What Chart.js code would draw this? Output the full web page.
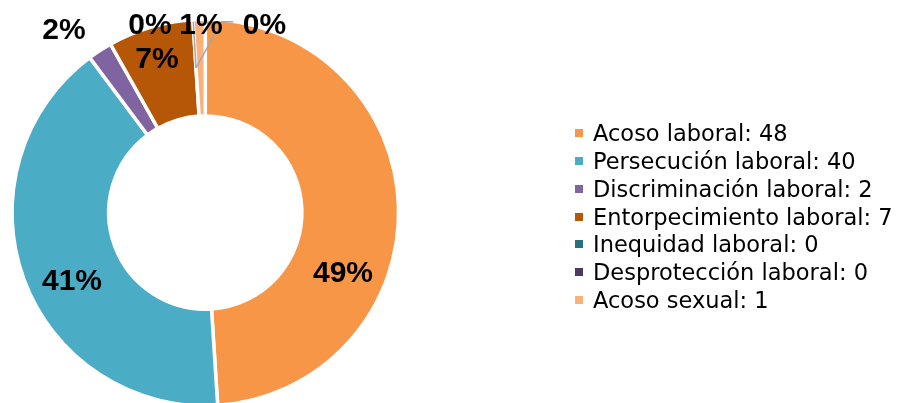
<!DOCTYPE html>
<html>
<head>
<meta charset="utf-8">
<script src="https://cdn.jsdelivr.net/npm/chart.js@4/dist/chart.umd.min.js"></script>
<style>
  html, body { margin: 0; padding: 0; background: #fff; overflow: hidden; width: 901px; height: 403px; }
  #wrap { position: absolute; left: 0; top: 0; width: 901px; height: 430px; }
  #legend { position: absolute; left: 575px; top: 119.4px; font-family: "DejaVu Sans", sans-serif; font-size: 22.5px; color: #000; }
  .row { height: 27.8px; display: flex; align-items: center; white-space: nowrap; }
  .sq { width: 8px; height: 8px; margin-right: 10px; flex: none; }
</style>
</head>
<body>
<div id="wrap"><canvas id="c" width="901" height="430"></canvas></div>
<div id="legend"></div>
<script>
const categories = ["Acoso laboral", "Persecución laboral", "Discriminación laboral", "Entorpecimiento laboral", "Inequidad laboral", "Desprotección laboral", "Acoso sexual"];
const values = [48, 40, 2, 7, 0, 0, 1];
const colors = ["#F79646", "#4BACC6", "#8064A2", "#B65708", "#2B6E7F", "#4B3B62", "#FAB27A"];

// label placement (fraction of outer radius, relative to centre)
const labelPlacement = [
  [0.7126, 0.3027],
  [-0.6898, 0.3467],
  [-0.7312, -0.9547],
  [-0.2499, -0.8021],
  [-0.2862, -0.9780],
  [0.3063, -0.9780],
  [-0.0223, -0.9780]
];
// leader lines for zero slices: index -> list of points (fraction of outer radius)
const leaderLines = {
  4: [[-0.0621, -0.9873]],
  5: [[0.0849, -0.9873], [0.1449, -0.9873]]
};

const total = values.reduce((a, b) => a + b, 0);

const labelPlugin = {
  id: 'pctLabels',
  afterDatasetsDraw(chart) {
    const ctx = chart.ctx;
    const meta = chart.getDatasetMeta(0);
    const a0 = meta.data[0];
    const cx = a0.x, cy = a0.y, R = a0.outerRadius;
    ctx.save();
    // leader lines
    ctx.strokeStyle = '#A6A6A6';
    ctx.lineWidth = 1.5;
    Object.keys(leaderLines).forEach(k => {
      const arc = meta.data[+k];
      const mid = (arc.startAngle + arc.endAngle) / 2;
      const mr = (arc.innerRadius + arc.outerRadius) / 2;
      ctx.beginPath();
      ctx.moveTo(cx + Math.cos(mid) * mr, cy + Math.sin(mid) * mr);
      leaderLines[k].forEach(p => ctx.lineTo(cx + p[0] * R, cy + p[1] * R));
      ctx.stroke();
    });
    // percentage labels
    ctx.fillStyle = '#000';
    ctx.font = 'bold 30px "Liberation Sans", Arial, sans-serif';
    ctx.textAlign = 'center';
    ctx.textBaseline = 'alphabetic';
    values.forEach((v, i) => {
      const t = Math.round(v / total * 100) + '%';
      const p = labelPlacement[i];
      ctx.fillText(t, cx + p[0] * R, cy + p[1] * R + 10.7);
    });
    ctx.restore();
  }
};

new Chart(document.getElementById('c'), {
  type: 'doughnut',
  data: {
    labels: categories,
    datasets: [{
      data: values,
      backgroundColor: colors,
      borderColor: '#FFFFFF',
      borderWidth: 3.5,
      hoverBorderWidth: 3.5,
      hoverOffset: 0
    }]
  },
  options: {
    responsive: false,
    devicePixelRatio: 1,
    animation: false,
    events: [],
    cutout: '50%',
    layout: { padding: { left: 10.3, top: 17.5, right: 500.7, bottom: 22.5 } },
    plugins: {
      legend: { display: false },
      tooltip: { enabled: false }
    }
  },
  plugins: [labelPlugin]
});

const legend = document.getElementById('legend');
categories.forEach((c, i) => {
  const row = document.createElement('div');
  row.className = 'row';
  const sq = document.createElement('span');
  sq.className = 'sq';
  sq.style.background = colors[i];
  const tx = document.createElement('span');
  tx.textContent = c + ': ' + values[i];
  row.appendChild(sq);
  row.appendChild(tx);
  legend.appendChild(row);
});
</script>
</body>
</html>
